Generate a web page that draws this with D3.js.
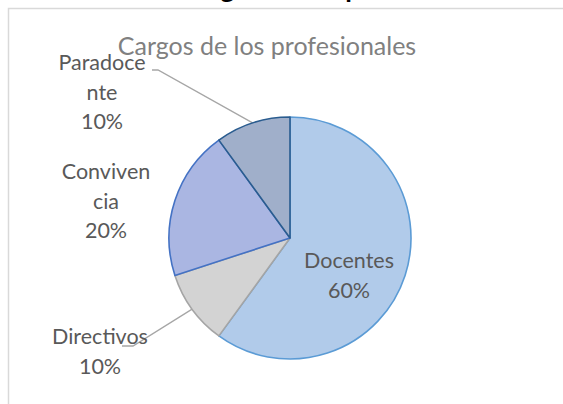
<!DOCTYPE html>
<html>
<head>
<meta charset="utf-8">
<script src="https://cdn.jsdelivr.net/npm/d3@7"></script>
<style>
  body { margin: 0; background: #fff; }
  text { font-family: Lato, "Open Sans", sans-serif; }
</style>
</head>
<body>
<div id="chart"></div>
<script>

// data
var categories = ["Docentes", "Directivos", "Convivencia", "Paradocente"];
var values = [60, 10, 20, 10];
// label text as Excel wrapped it
var labelLines = [["Docentes", "60%"], ["Directivos", "10%"], ["Conviven", "cia", "20%"], ["Paradoce", "nte", "10%"]];
var title = "Cargos de los profesionales";

var width = 563, height = 404;
var cx = 290, cy = 238, r = 121;

var fills = [["#b1cbea", "#8db2e2"], ["#d3d3d3", "#c1c1c1"], ["#aab6e2", "#879cd5"], ["#a0afca", "#8295b7"]];
var strokes = ["#5b9bd5", "#a5a5a5", "#4472c4", "#2a5c8f"];

// label baselines relative to pie centre, and leader elbows (null = no leader)
var labelPos = [[59, 30], [-190, 106], [-184, -59], [-188, -168]];
var elbows = [null, [[-168, 108], [-157, 108]], null, [[-138, -168], [-132, -168]]];

var svg = d3.select("#chart").append("svg")
    .attr("width", width)
    .attr("height", height);

var defs = svg.append("defs");
fills.forEach(function(f, i) {
  var g = defs.append("linearGradient")
      .attr("id", "grad" + i)
      .attr("gradientUnits", "userSpaceOnUse")
      .attr("x1", 0).attr("y1", cy - r)
      .attr("x2", 0).attr("y2", cy + r);
  g.append("stop").attr("offset", "0%").attr("stop-color", f[0]);
  g.append("stop").attr("offset", "100%").attr("stop-color", f[1]);
});

// heading of the document, cut off by the top edge
svg.append("text")
    .attr("x", 342).attr("y", -2.5)
    .attr("text-anchor", "middle")
    .attr("font-size", 27)
    .attr("font-weight", "bold")
    .attr("fill", "#000")
    .text(title);

// chart area frame
svg.append("rect")
    .attr("x", 8.5).attr("y", 8.5)
    .attr("width", 700).attr("height", 600)
    .attr("fill", "#fff")
    .attr("stroke", "#d9d9d9")
    .attr("stroke-width", 1.5);

svg.append("text")
    .attr("x", 267).attr("y", 55)
    .attr("text-anchor", "middle")
    .attr("font-size", 25)
    .attr("fill", "#808080")
    .text(title);

var pie = d3.pie().sort(null).value(function(d) { return d; });
var arcs = pie(values);
var arc = d3.arc().innerRadius(0).outerRadius(r);
var edge = d3.arc().innerRadius(r).outerRadius(r);

var g = svg.append("g").attr("transform", "translate(" + cx + "," + cy + ")");

// leader lines
arcs.forEach(function(d, i) {
  if (!elbows[i]) return;
  var pts = elbows[i].concat([edge.centroid(d)]);
  g.append("path")
      .attr("d", d3.line()(pts))
      .attr("fill", "none")
      .attr("stroke", "#a6a6a6")
      .attr("stroke-width", 1.3);
});

g.selectAll("path.slice")
  .data(arcs)
  .enter().append("path")
    .attr("class", "slice")
    .attr("d", arc)
    .attr("fill", function(d, i) { return "url(#grad" + i + ")"; })
    .attr("stroke", function(d, i) { return strokes[i]; })
    .attr("stroke-width", 1.6)
    .attr("stroke-linejoin", "round");

// labels
var lineH = 29.5;
arcs.forEach(function(d, i) {
  var t = g.append("text")
      .attr("text-anchor", "middle")
      .attr("font-size", 21.5)
      .attr("fill", "#595959");
  labelLines[i].forEach(function(s, k) {
    t.append("tspan")
        .attr("x", labelPos[i][0])
        .attr("y", labelPos[i][1] + k * lineH)
        .text(s);
  });
});

</script>
</body>
</html>
